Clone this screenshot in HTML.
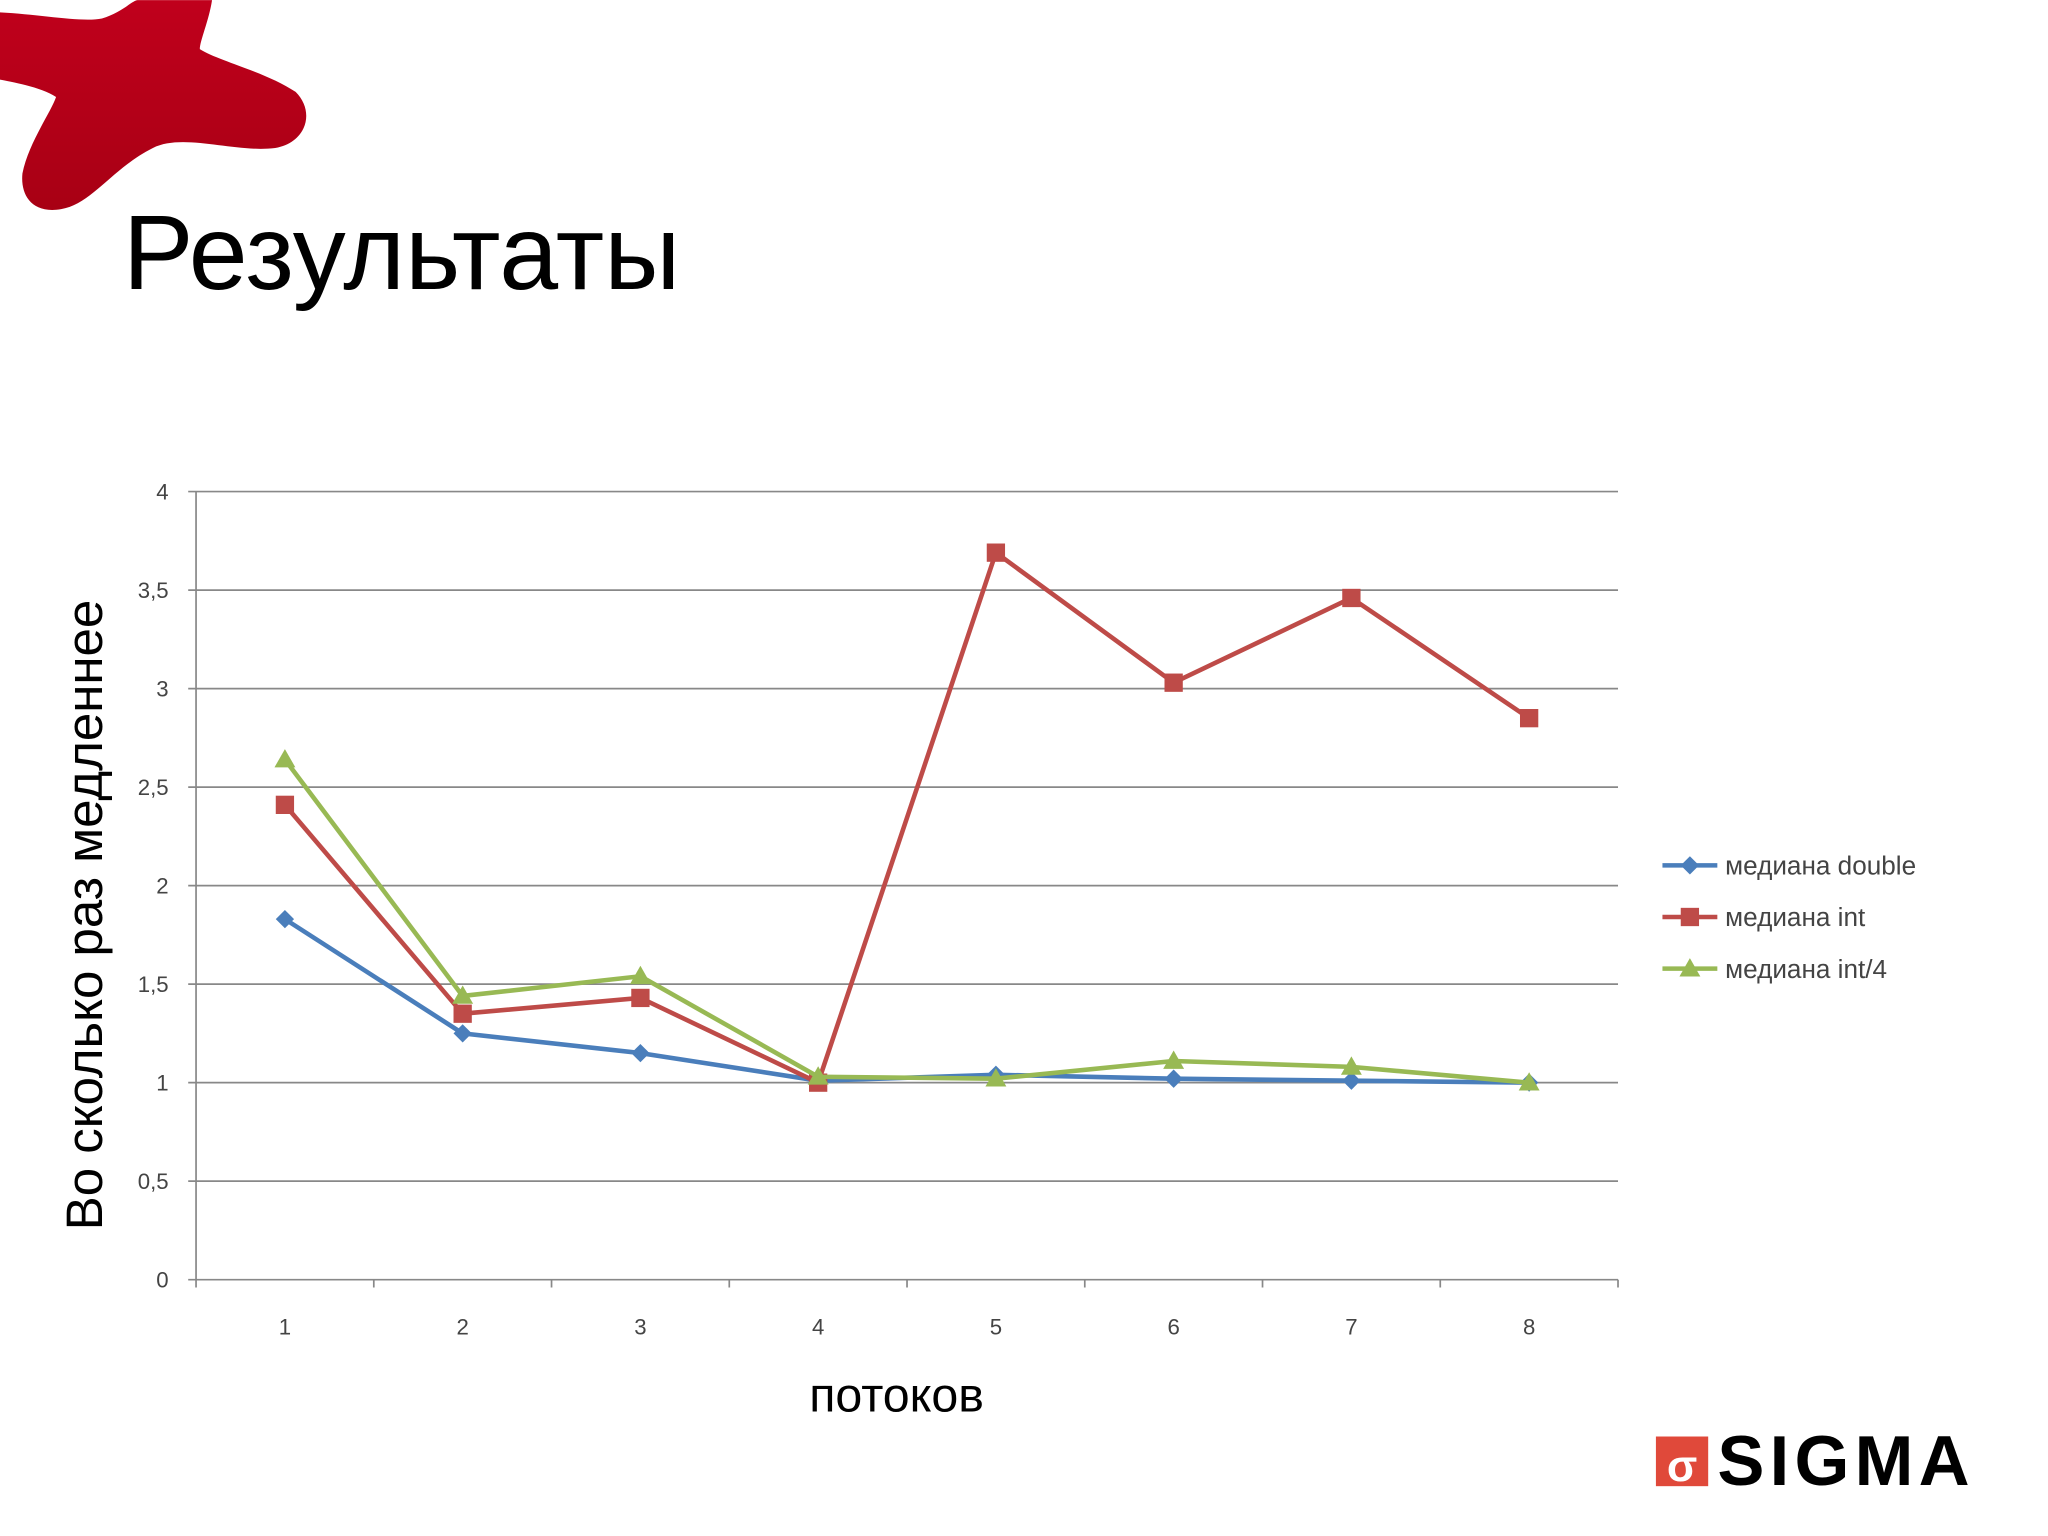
<!DOCTYPE html>
<html><head><meta charset="utf-8"><style>
html,body{margin:0;padding:0;background:#fff;width:2048px;height:1536px;overflow:hidden}
svg{display:block}
</style></head><body>
<svg id="s" width="2048" height="1536" viewBox="0 0 1567 1175" xmlns="http://www.w3.org/2000/svg" font-family="Liberation Sans, sans-serif">
<defs>
<linearGradient id="rg" x1="0" y1="0" x2="0" y2="1"><stop offset="0" stop-color="#c0001c"/><stop offset="1" stop-color="#a80014"/></linearGradient>
</defs>
<g>
<path d="M0,12 C40,14 80,22 100,18 C120,12 130,0 135,0 L208,0 C205,20 196,40 196,48 C215,60 260,70 290,90 C310,110 300,140 270,145 C230,150 180,130 150,145 C110,165 90,200 60,205 C30,210 20,190 22,170 C28,140 50,110 55,95 C40,85 10,80 0,78 Z" fill="url(#rg)" transform="scale(0.78)"/>
</g>
<text x="94" y="221" font-size="81" fill="#000">Результаты</text>
<g id="chart"></g>
<text transform="translate(78,700) rotate(-90)" text-anchor="middle" font-size="39" fill="#000">Во сколько раз медленнее</text>
<text x="686" y="1080" text-anchor="middle" font-size="37" fill="#000">потоков</text>
<g>
<rect x="1267" y="1099" width="40" height="38" fill="#e0493a"/>
<text x="1287" y="1133" text-anchor="middle" font-size="34" font-weight="bold" fill="#fff">σ</text>
<text x="1314" y="1136" font-size="54" font-weight="bold" fill="#000" letter-spacing="4">SIGMA</text>
</g>
</svg>
<script>
const categories=["1","2","3","4","5","6","7","8"];
const yTicks=[0,0.5,1,1.5,2,2.5,3,3.5,4];
const yTickLabels=["0","0,5","1","1,5","2","2,5","3","3,5","4"];
const seriesNames=["медиана double","медиана int","медиана int/4"];
const seriesDouble=[1.83,1.25,1.15,1.01,1.04,1.02,1.01,1.0];
const seriesInt=[2.41,1.35,1.43,1.0,3.69,3.03,3.46,2.85];
const seriesInt4=[2.64,1.44,1.54,1.03,1.02,1.11,1.08,1.0];
const colors=["#4a7ebb","#be4b48","#98b954"];
const NS="http://www.w3.org/2000/svg";
const g=document.getElementById('chart');
const L=150,R=1238,T=376,B=979;
const band=(R-L)/categories.length;
const xs=i=>L+band*(i+0.5);
const ys=v=>B-(v/4)*(B-T);
function el(t,a,p){const e=document.createElementNS(NS,t);for(const k in a)e.setAttribute(k,a[k]);(p||g).appendChild(e);return e;}
yTicks.forEach((v,i)=>{
 const l=el('line',{x1:L-6,x2:R,y1:ys(v),y2:ys(v),stroke:'#888','stroke-width':1.3});
 
 
 const t=el('text',{x:129,y:ys(v)+6,'text-anchor':'end','font-size':17,fill:'#444'});
 t.textContent=yTickLabels[i];
 
 
});
const ya=el('line',{x1:L,x2:L,y1:T,y2:B,stroke:'#888','stroke-width':1.3});


for(let i=0;i<=categories.length;i++){
 const tk=el('line',{x1:L+band*i,x2:L+band*i,y1:B,y2:B+6,stroke:'#888','stroke-width':1.3});
 
 
}
categories.forEach((c,i)=>{
 const t=el('text',{x:xs(i),y:1021,'text-anchor':'middle','font-size':17,fill:'#444'});
 t.textContent=c;
 
 
});
function marker(type,x,y,c,parent){
 let m;
 if(type===0)m=el('polygon',{points:`${x},${y-7} ${x+7},${y} ${x},${y+7} ${x-7},${y}`,fill:c},parent);
 else if(type===1)m=el('rect',{x:x-7,y:y-7,width:14,height:14,fill:c},parent);
 else m=el('polygon',{points:`${x},${y-8} ${x+8},${y+6} ${x-8},${y+6}`,fill:c},parent);
 
 
}
[seriesDouble,seriesInt,seriesInt4].forEach((s,k)=>{
 const sg=el('g',{});
 
 
 const p=el('polyline',{points:s.map((v,i)=>xs(i)+','+ys(v)).join(' '),fill:'none',stroke:colors[k],'stroke-width':3.5,'stroke-linejoin':'round'},sg);
 
 
 s.forEach((v,i)=>marker(k,xs(i),ys(v),colors[k],sg));
});
seriesNames.forEach((n,k)=>{
 const lg=el('g',{});
 
 
 const y=662+k*39.5;
 el('line',{x1:1272,x2:1314,y1:y,y2:y,stroke:colors[k],'stroke-width':3.5},lg);
 marker(k,1293,y,colors[k],lg);
 const t=el('text',{x:1320,y:y+7,'font-size':20,fill:'#444'},lg);
 t.textContent=n;
});
</script>
</body></html>
